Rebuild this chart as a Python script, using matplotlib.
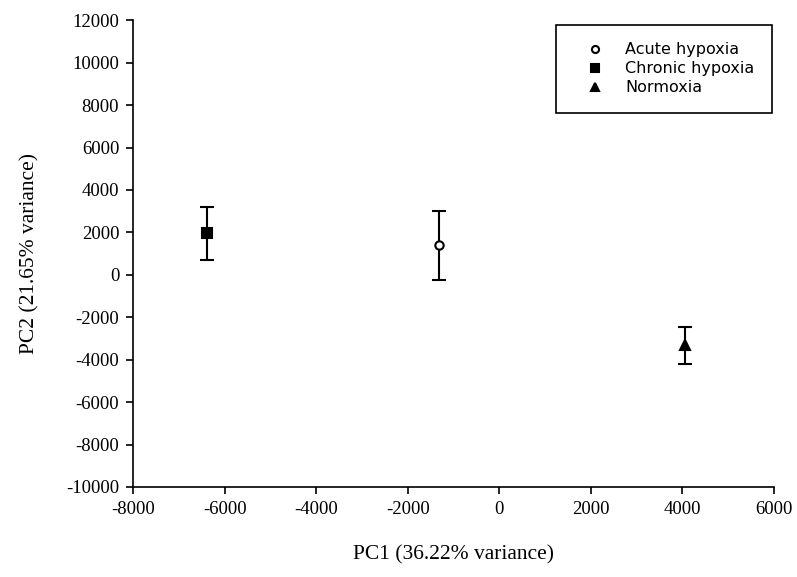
import matplotlib.pyplot as plt
from matplotlib.lines import Line2D

groups = ['Acute hypoxia', 'Chronic hypoxia', 'Normoxia']
pc1 = [-1320, -6380, 4050]
pc2 = [1400, 1950, -3320]
pc2_err = [1630, 1230, 880]
markers = ['o', 's', '^']
faces = ['white', 'black', 'black']
sizes = [6, 7, 7.5]

plt.rcParams['font.family'] = ['Liberation Serif', 'DejaVu Serif']
plt.rcParams['axes.unicode_minus'] = False

fig = plt.figure(figsize=(7.97, 5.77), dpi=100)
ax = fig.add_axes([0.167, 0.156, 0.804, 0.809])

handles = []
for g, x, y, e, m, fc, s in zip(groups, pc1, pc2, pc2_err, markers, faces, sizes):
    ax.errorbar(x, y, yerr=e, fmt=m, color='black', mfc=fc, mec='black',
                ms=s, mew=1.5, ecolor='black', elinewidth=1.5,
                capsize=4.8, capthick=1.5, zorder=3)
    handles.append(Line2D([], [], ls='none', marker=m, mfc=fc, mec='black',
                          mew=1.5, ms=s * 0.85, label=g))

ax.set_xlim(-8000, 6000)
ax.set_ylim(-10000, 12000)
ax.set_xticks(range(-8000, 6001, 2000))
ax.set_yticks(range(-10000, 12001, 2000))
ax.tick_params(direction='out', length=5, width=1.2, labelsize=13.5, pad=5)
for s in ['top', 'right']:
    ax.spines[s].set_visible(False)
for s in ['left', 'bottom']:
    ax.spines[s].set_linewidth(1.2)

ax.set_xlabel('PC1 (36.22% variance)', fontsize=15.5, labelpad=20)
ax.set_ylabel('PC2 (21.65% variance)', fontsize=15.5, labelpad=19)

leg = ax.legend(handles=handles, loc='upper right', bbox_to_anchor=(0.997, 0.99),
                fancybox=False, edgecolor='black', framealpha=1,
                prop={'family': 'DejaVu Sans', 'size': 11.5},
                borderpad=1.1, handletextpad=0.6, labelspacing=0.25,
                handlelength=2.6, borderaxespad=0)
leg.get_frame().set_linewidth(1.2)

fig.savefig('out.png', dpi=100)
